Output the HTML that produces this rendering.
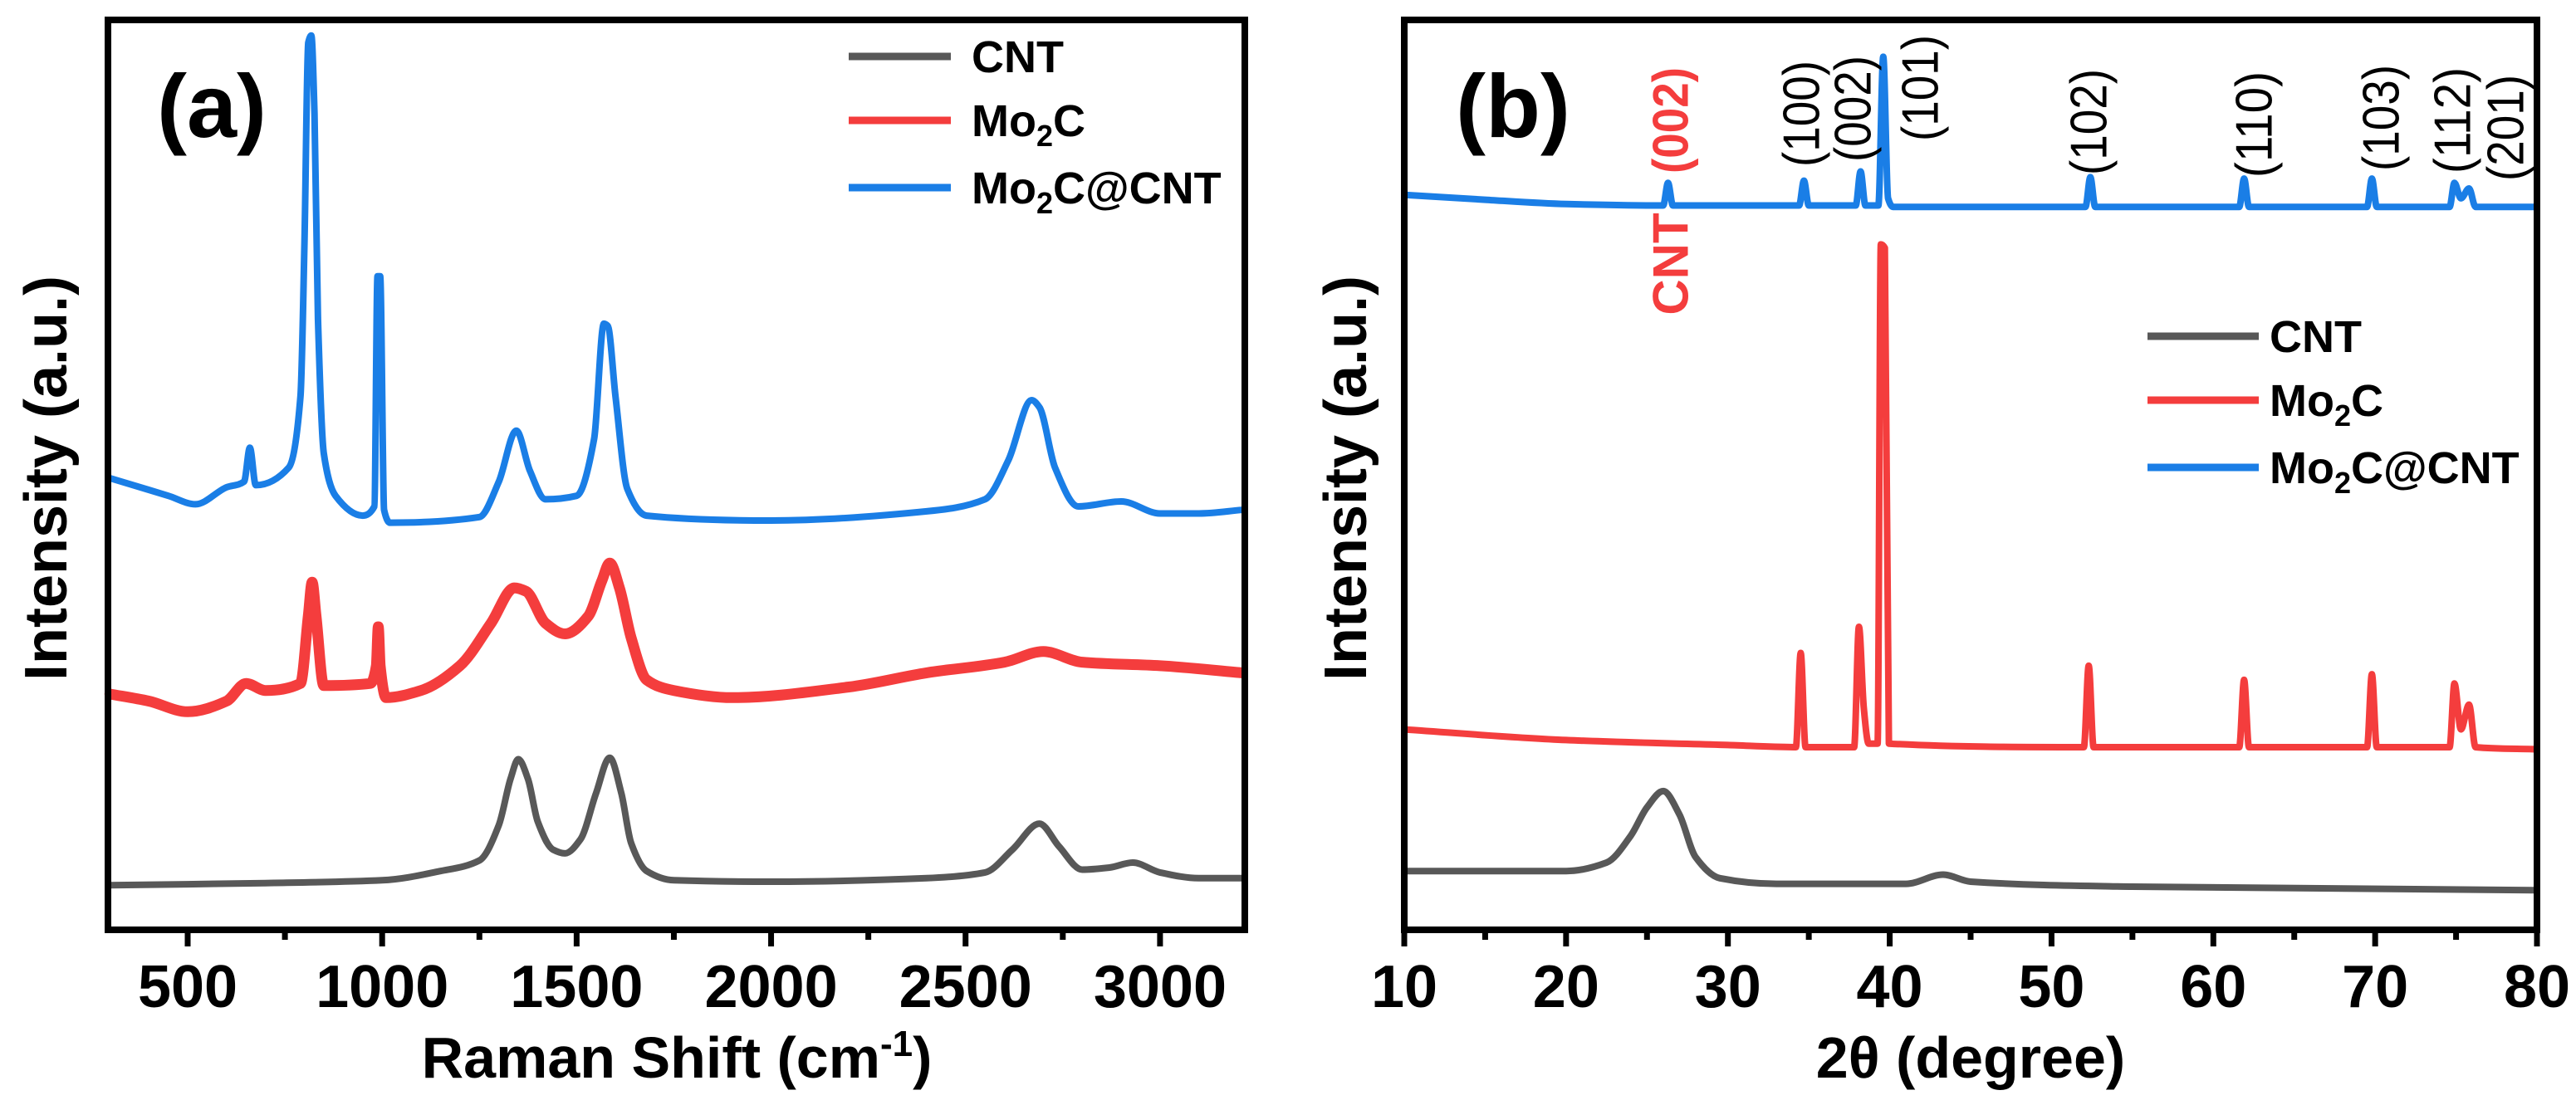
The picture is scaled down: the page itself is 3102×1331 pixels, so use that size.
<!DOCTYPE html>
<html><head><meta charset="utf-8">
<style>
html,body{margin:0;padding:0;background:#fff;}
svg{display:block;font-family:"Liberation Sans",Arial,sans-serif;}
</style></head>
<body>
<div style="position:relative;width:3102px;height:1331px;">
<svg id="fig" width="3102" height="1331" viewBox="0 0 3102 1331" xmlns="http://www.w3.org/2000/svg" style="position:absolute;left:0;top:0;">
<rect width="3102" height="1331" fill="#fff"/>
<g id="pa"></g>
<g id="pb"></g>
</svg>
<svg width="3102" height="1331" viewBox="0 0 3102 1331" style="position:absolute;left:0;top:0;font-family:'Liberation Sans',Arial,sans-serif;font-weight:bold;">
  <text x="255" y="165" font-size="108" text-anchor="middle">(a)</text>
  <text x="815" y="1298" font-size="70" text-anchor="middle">Raman Shift (cm<tspan dy="-26" font-size="44">-1</tspan><tspan dy="26">)</tspan></text>
  <text x="80" y="576" font-size="72" text-anchor="middle" transform="rotate(-90 80 576)">Intensity (a.u.)</text>
  <g>
    <line x1="1022" y1="68" x2="1145" y2="68" stroke="#585858" stroke-width="9"/>
    <text x="1170" y="87" font-size="54">CNT</text>
    <line x1="1022" y1="145" x2="1145" y2="145" stroke="#f43d3d" stroke-width="9"/>
    <text x="1170" y="164" font-size="54">Mo<tspan font-size="36" dy="12">2</tspan><tspan dy="-12">C</tspan></text>
    <line x1="1022" y1="226" x2="1145" y2="226" stroke="#1a7ee6" stroke-width="9"/>
    <text x="1170" y="245" font-size="54">Mo<tspan font-size="36" dy="12">2</tspan><tspan dy="-12">C@CNT</tspan></text>
  </g>
  <text x="1822" y="165" font-size="108" text-anchor="middle">(b)</text>
  <text x="2373" y="1298" font-size="70" text-anchor="middle">2θ (degree)</text>
  <text x="1645" y="576" font-size="72" text-anchor="middle" transform="rotate(-90 1645 576)">Intensity (a.u.)</text>
  <text x="2012" y="145" font-size="60" fill="#f43d3d" text-anchor="middle" dominant-baseline="central" textLength="128" lengthAdjust="spacingAndGlyphs" transform="rotate(-90 2012 145)">(002)</text>
  <text x="2012" y="318" font-size="60" fill="#f43d3d" text-anchor="middle" dominant-baseline="central" transform="rotate(-90 2012 318)">CNT</text>
  <g>
    <line x1="2586" y1="405" x2="2720" y2="405" stroke="#585858" stroke-width="9"/>
    <text x="2733" y="424" font-size="54">CNT</text>
    <line x1="2586" y1="482" x2="2720" y2="482" stroke="#f43d3d" stroke-width="9"/>
    <text x="2733" y="501" font-size="54">Mo<tspan font-size="36" dy="12">2</tspan><tspan dy="-12">C</tspan></text>
    <line x1="2586" y1="563" x2="2720" y2="563" stroke="#1a7ee6" stroke-width="9"/>
    <text x="2733" y="582" font-size="54">Mo<tspan font-size="36" dy="12">2</tspan><tspan dy="-12">C@CNT</tspan></text>
  </g>
</svg>
</div>
<script>
// ---------- Panel (a) Raman data ----------
const ramanCntX = [300,700,1000,1150,1250,1300,1330,1350,1375,1400,1440,1470,1510,1550,1585,1615,1640,1680,1750,2000,2400,2550,2620,2690,2740,2800,2870,2930,3000,3100,3210];
const ramanCntY = [70,73,77,90,105,155,220,248,220,160,120,115,135,200,250,200,130,90,77,75,80,88,120,157,125,92,95,102,88,80,80];
const ramanMoX = [300,400,500,600,650,700,790,810,820,830,850,970,985,990,995,1010,1100,1200,1280,1340,1370,1420,1470,1530,1565,1585,1610,1640,1680,1750,1900,2200,2400,2600,2700,2800,3000,3210];
const ramanMoY = [340,330,315,330,355,345,355,450,498,450,352,355,380,435,380,335,345,380,440,490,485,440,425,450,500,525,490,420,360,345,335,350,370,385,400,385,380,370];
const ramanMcX = [300,450,520,600,645,660,675,760,790,800,810,818,826,835,850,880,950,980,988,995,1005,1020,1250,1300,1345,1380,1420,1500,1545,1570,1580,1600,1630,1680,2000,2400,2550,2610,2670,2690,2730,2790,2900,3000,3100,3210];
const ramanMcY = [645,620,608,632,640,688,635,660,760,970,1260,1270,1160,870,680,620,592,605,930,930,600,582,590,640,712,655,615,620,700,863,860,760,630,592,585,598,615,670,755,745,660,605,612,595,595,600];
const ramanTicks = [500,1000,1500,2000,2500,3000];
const ramanMinor = [750,1250,1750,2250,2750];

// ---------- Panel (b) XRD data ----------
const xrdMcX = [10,15,20,26,26.3,26.6,34.4,34.7,35,37.9,38.2,38.5,39.3,39.6,39.9,40.2,52.1,52.4,52.7,61.6,61.9,62.2,69.5,69.8,70.1,74.6,74.9,75.3,75.8,76.2,80];
const xrdMcY = [1045,1038,1032,1030,1062,1030,1030,1065,1030,1030,1078,1030,1030,1240,1040,1028,1028,1070,1028,1028,1068,1028,1028,1068,1028,1028,1062,1040,1054,1028,1028];
const xrdMoX = [10,20,30,34.2,34.5,34.8,37.8,38.1,38.4,38.7,39.25,39.45,39.7,39.95,52,52.3,52.6,61.6,61.9,62.2,69.5,69.8,70.1,74.6,74.9,75.3,75.8,76.2,80];
const xrdMoY = [290,275,268,265,398,265,265,435,320,270,270,975,970,270,265,380,265,265,360,265,265,368,265,265,355,290,325,265,262];
const xrdCntX = [10,20,22.5,24,25,26,27,28,29.5,33,41,43.3,45,55,80];
const xrdCntY = [90,90,102,140,180,203,170,110,80,72,72,85,75,68,63];
const xrdTicks = [10,20,30,40,50,60,70,80];
const xrdMinor = [15,25,35,45,55,65,75];
const peakLabels = ["(100)","(002)","(101)","(102)","(110)","(103)","(112)","(201)"];
const peakLabelX = [34.58,37.76,41.92,52.34,62.55,70.40,74.82,78.10];

const NS="http://www.w3.org/2000/svg";
function mk(tag, attrs, parent){const e=document.createElementNS(NS,tag);for(const k in attrs)e.setAttribute(k,attrs[k]);parent.appendChild(e);return e;}
function lin(d0,d1,r0,r1){return v=>r0+(v-d0)*(r1-r0)/(d1-d0);}
const C_GRAY="#585858", C_RED="#f43d3d", C_BLUE="#1a7ee6";

function monoPath(px,py){
  const n=px.length; const d=[],m=new Array(n);
  for(let i=0;i<n-1;i++) d.push((py[i+1]-py[i])/(px[i+1]-px[i]));
  m[0]=d[0]; m[n-1]=d[n-2];
  for(let i=1;i<n-1;i++){ if(d[i-1]*d[i]<=0) m[i]=0; else { const w1=2*(px[i+1]-px[i])+(px[i]-px[i-1]), w2=(px[i+1]-px[i])+2*(px[i]-px[i-1]); m[i]=(w1+w2)/(w1/d[i-1]+w2/d[i]); } }
  let s="M"+px[0].toFixed(1)+" "+py[0].toFixed(1);
  for(let i=0;i<n-1;i++){
    const h=(px[i+1]-px[i])/3;
    s+="C"+(px[i]+h).toFixed(1)+" "+(py[i]+m[i]*h).toFixed(1)+" "+(px[i+1]-h).toFixed(1)+" "+(py[i+1]-m[i+1]*h).toFixed(1)+" "+px[i+1].toFixed(1)+" "+py[i+1].toFixed(1);
  }
  return s;
}

function drawPanel(g, o){
  const xs=lin(o.xd[0],o.xd[1],o.L,o.R);
  const ys=lin(0,1292,1126,24);
  o.series.forEach(s=>{
    const p=mk("path",{d:monoPath(s.x.map(xs),s.y.map(ys)),fill:"none",stroke:s.c,"stroke-width":s.w,"stroke-linejoin":"round","stroke-linecap":"round"},g);
    
    
  });
  const fr=mk("rect",{x:o.L,y:24,width:o.R-o.L,height:1120-24,fill:"none",stroke:"#000","stroke-width":8},g);
  
  
  o.ticks.forEach(t=>{
    const tl=mk("line",{x1:xs(t),x2:xs(t),y1:1120,y2:1140,stroke:"#000","stroke-width":7},g);
    
    
    const tx=mk("text",{x:xs(t),y:1213,"font-size":72,"font-weight":"bold","text-anchor":"middle"},g);
    tx.textContent=t;
    
    
  });
  o.minor.forEach(t=>{
    const tl=mk("line",{x1:xs(t),x2:xs(t),y1:1120,y2:1132,stroke:"#000","stroke-width":7},g);
    
    
  });
  return xs;
}

const pa=document.getElementById("pa");
drawPanel(pa,{xd:[295,3218],L:130,R:1499,ticks:ramanTicks,minor:ramanMinor,series:[
  {x:ramanCntX,y:ramanCntY,c:C_GRAY,w:8,name:"cnt-raman-line"},
  {x:ramanMoX,y:ramanMoY,c:C_RED,w:13,name:"mo2c-raman-line"},
  {x:ramanMcX,y:ramanMcY,c:C_BLUE,w:8,name:"mo2c-cnt-raman-line"}]});
const pb=document.getElementById("pb");
const xsb=drawPanel(pb,{xd:[10,80],L:1691,R:3055,ticks:xrdTicks,minor:xrdMinor,series:[
  {x:xrdCntX,y:xrdCntY,c:C_GRAY,w:8,name:"cnt-xrd-line"},
  {x:xrdMoX,y:xrdMoY,c:C_RED,w:8,name:"mo2c-xrd-line"},
  {x:xrdMcX,y:xrdMcY,c:C_BLUE,w:8,name:"mo2c-cnt-xrd-line"}]});

const peakLabelCY=[137,131,106,147,150,142,145,154];
peakLabels.forEach((lab,i)=>{
  const x=xsb(peakLabelX[i]), y=peakLabelCY[i];
  const t=mk("text",{x:x,y:y,"font-size":62,"font-weight":"normal","text-anchor":"middle","dominant-baseline":"central",textLength:128,lengthAdjust:"spacingAndGlyphs",transform:`rotate(-90 ${x} ${y})`},pb);
  t.textContent=lab;
  
  
});
</script>
</body></html>
